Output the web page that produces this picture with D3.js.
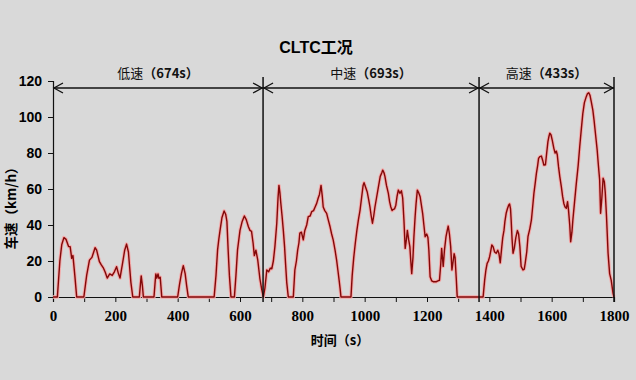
<!DOCTYPE html>
<html>
<head>
<meta charset="utf-8">
<script src="https://cdn.jsdelivr.net/npm/d3@7"></script>
<style>
  html, body { margin: 0; padding: 0; background: #d9d9d9; }
  svg { display: block; }
</style>
</head>
<body>
<div id="chart"></div>
<script>
// CLTC speed trace (time in s, speed in km/h)
var lowTime = [0, 14, 18, 22, 28, 35, 42, 50, 55, 60, 64, 70, 76,
    99, 108, 117, 125, 135, 140, 149, 155, 162, 167, 174, 182, 190, 197, 204, 210, 215, 223, 230, 236, 242, 245, 250, 256,
    277, 281, 283, 287, 290,
    324, 328, 330, 333, 337, 340, 344, 349,
    400, 406, 412, 418, 424, 429, 434,
    517, 523, 528, 532, 536, 542, 549, 554, 558, 562, 566, 571,
    582, 587, 592, 600, 607, 614, 620, 627, 632, 637, 642, 646, 651, 657, 664, 670, 675];
var lowSpeed = [0, 0, 10, 20, 29, 33, 32, 28, 28, 21.5, 23, 12, 0,
    0, 12, 20.5, 22, 27.4, 26, 19.6, 17.8, 16, 14, 10.5, 12.8, 12, 14, 16.8, 13, 10.5, 18.5, 26, 29.4, 25, 18.5, 8, 0,
    0, 8, 11.7, 6, 0,
    0, 9, 12.8, 10.5, 12.8, 10.4, 11, 0,
    0, 7, 13, 17.4, 13, 6, 0,
    0, 12, 26, 32, 37, 44, 47.8, 46, 42, 26, 12, 0,
    0, 12, 26, 37, 42, 45, 43, 39, 37, 36.5, 30, 23, 26, 20.5, 10, 4, 0];

var midTime = [680, 686, 692, 697, 702, 707, 712, 718, 722, 725, 728, 731, 735, 739, 743, 746, 750, 755,
    771, 776, 781, 785, 789, 792, 797, 803, 808, 814, 819, 825, 830, 836, 841, 846, 851, 855, 860, 864, 867, 872, 878, 883, 889, 894, 899, 905, 910, 914, 918, 921, 924,
    956, 960, 965, 970, 975, 980, 985, 990, 995, 998, 1003, 1008, 1013, 1017, 1021, 1025, 1029, 1033, 1038, 1044, 1050, 1055, 1058, 1062, 1065, 1070, 1076, 1080, 1084, 1088, 1092, 1096, 1100, 1104, 1108, 1113, 1118, 1122, 1126, 1130, 1134, 1137, 1141, 1145, 1148, 1151, 1155, 1158, 1162, 1165, 1169, 1173, 1178, 1182, 1186, 1190, 1194, 1199, 1203, 1206, 1210, 1215, 1220, 1225, 1230, 1235, 1240, 1244, 1247, 1252, 1256, 1261, 1265, 1268, 1272, 1276, 1280, 1284, 1287, 1290, 1294, 1297];
var midSpeed = [5, 15, 14, 16, 15.7, 20, 28, 41, 55, 62, 58, 52, 45, 37, 28, 19, 8, 0,
    0, 15, 20, 26, 30, 35.5, 36, 31.7, 37, 40, 44.6, 45, 47.4, 48, 50, 52, 55, 57, 62, 56, 50, 48, 46.5, 43, 39, 35, 31.7, 26, 20.5, 15, 9.4, 5, 0,
    0, 12, 22, 30, 37, 43, 48, 55, 62, 63.5, 61, 58.5, 54, 50, 45, 41, 45, 50, 55, 61, 67, 69, 70.5, 69, 67, 62, 57.6, 53, 50, 48, 48.7, 49, 51, 56, 59.4, 57.6, 59, 55, 42.8, 27, 32, 37, 32, 28, 20, 13, 22, 33.5, 45, 52, 59.4, 58, 55.7, 51, 46.5, 40, 33.5, 35, 33, 26, 11.3, 9, 8.5, 8.5, 8.5, 9, 9.3, 18, 27, 17, 26, 33.5, 37, 39.4, 35, 28, 15, 20, 24, 22, 10, 0];

var highTime = [1380, 1385, 1389, 1393, 1397, 1401, 1405, 1408, 1412, 1417, 1422, 1427, 1431, 1435, 1440, 1443, 1447, 1450, 1454, 1458, 1462, 1465, 1468, 1470, 1473, 1476, 1480, 1485, 1490, 1494, 1498, 1502, 1508, 1512, 1515, 1520, 1524, 1530, 1535, 1539, 1543, 1547, 1551, 1555, 1558, 1562, 1567, 1571, 1575, 1580, 1584, 1588, 1591, 1594, 1598, 1602, 1607, 1611, 1615, 1618, 1622, 1626, 1631, 1635, 1639, 1643, 1647, 1651, 1654, 1658, 1661, 1665, 1668, 1673, 1679, 1685, 1690, 1695, 1700, 1705, 1711, 1715, 1719, 1723, 1727, 1732, 1736, 1741, 1746, 1750, 1754, 1757, 1761, 1765, 1769, 1772, 1776, 1781, 1786, 1791, 1797, 1800];
var highSpeed = [0, 9.4, 15, 18.7, 20, 22.4, 26, 28.9, 28, 25, 24.3, 26, 24, 19, 28, 33, 37, 42, 46.5, 49, 51, 51.7, 49, 42.8, 32, 24.3, 27, 33, 36.9, 35, 28, 17, 15, 15.5, 18.7, 25, 33.5, 38, 42.8, 50, 57.6, 63, 68.7, 73, 77, 78, 78.3, 76, 73.3, 73.5, 80, 86.3, 89, 91, 90, 87, 82.6, 80, 81, 79, 72.4, 67, 61.3, 56, 52, 50, 49.3, 53, 48.4, 40, 30.7, 36, 42.8, 52, 63, 73, 83.5, 93, 102, 108, 111.3, 113, 113.5, 112, 108.5, 104, 98.3, 90, 81.7, 73, 65, 46.5, 55, 66, 64, 58, 44.6, 24.3, 13, 9.4, 2, 0];

var phaseNames = ["低速", "中速", "高速"];
var phaseDurations = ["（674s）", "（693s）", "（433s）"];
var phaseBounds = [0, 674, 1367, 1800];
var xTicks = [0, 200, 400, 600, 800, 1000, 1200, 1400, 1600, 1800];
var yTicks = [0, 20, 40, 60, 80, 100, 120];

(function () {
    var width = 636, height = 380;
    var margin = { top: 81, right: 22, bottom: 83, left: 53 };
    var innerW = width - margin.left - margin.right;
    var innerH = height - margin.top - margin.bottom;

    var svg = d3.select("#chart").append("svg").attr("width", width).attr("height", height);
    svg.append("rect").attr("width", width).attr("height", height).attr("fill", "#d9d9d9");

    var g = svg.append("g").attr("transform", "translate(" + margin.left + "," + margin.top + ")");

    var x = d3.scaleLinear().domain([0, 1800]).range([0, innerW]);
    var y = d3.scaleLinear().domain([0, 120]).range([innerH, 0]);

    // build point list from the three phases, zeros in between are joined by the line
    var points = [];
    [[lowTime, lowSpeed], [midTime, midSpeed], [highTime, highSpeed]].forEach(function (p) {
        p[0].forEach(function (t, i) {
            points.push({ t: t, v: p[1][i] });
        });
    });

    var line = d3.line().x(function (d) { return x(d.t); }).y(function (d) { return y(d.v); });

    // x axis: ticks every 100, labels every 200
    var xAxis = d3.axisBottom(x).tickValues(d3.range(0, 1801, 100)).tickSize(5)
        .tickFormat(function (d) { return xTicks.indexOf(d) >= 0 ? d : ""; });
    var gx = g.append("g").attr("transform", "translate(0," + innerH + ")").call(xAxis);
    gx.select(".domain").attr("stroke", "#111").attr("stroke-width", 1.2);
    gx.selectAll(".tick line").attr("stroke", "#111");
    gx.selectAll(".tick text").attr("dy", "1.05em")
        .style("font-family", "'Liberation Serif', serif").style("font-weight", "bold")
        .style("font-size", "15px").attr("fill", "#000");

    var yAxis = d3.axisLeft(y).tickValues(yTicks).tickSize(5).tickPadding(6);
    var gy = g.append("g").call(yAxis);
    gy.select(".domain").attr("stroke", "#111").attr("stroke-width", 1.2);
    gy.selectAll(".tick line").attr("stroke", "#111");
    gy.selectAll(".tick text")
        .style("font-family", "'Liberation Sans', Arial, sans-serif").style("font-weight", "bold")
        .style("font-size", "14px").attr("fill", "#000");

    // speed trace: soft red halo underneath, dark red line on top
    g.append("path").datum(points).attr("d", line).attr("fill", "none")
        .attr("stroke", "#f4a8a8").attr("stroke-width", 3.4).attr("stroke-linejoin", "round");
    g.append("path").datum(points).attr("d", line).attr("fill", "none")
        .attr("stroke", "#820808").attr("stroke-width", 1.4).attr("stroke-linejoin", "round");

    // phase dividers
    var arrowY = 7;
    g.selectAll(".divider").data(phaseBounds.slice(1)).enter().append("line")
        .attr("class", "divider")
        .attr("x1", function (d) { return x(d); }).attr("x2", function (d) { return x(d); })
        .attr("y1", -4).attr("y2", innerH + 5)
        .attr("stroke", "#111").attr("stroke-width", 1.5);

    // double arrows with labels
    var phases = phaseNames.map(function (n, i) {
        return { name: n, dur: phaseDurations[i], a: phaseBounds[i], b: phaseBounds[i + 1] };
    });
    var pg = g.selectAll(".phase").data(phases).enter().append("g").attr("class", "phase");
    pg.append("line")
        .attr("x1", function (d) { return x(d.a); }).attr("x2", function (d) { return x(d.b); })
        .attr("y1", arrowY).attr("y2", arrowY).attr("stroke", "#111").attr("stroke-width", 1.3);
    pg.append("path").attr("fill", "none").attr("stroke", "#111").attr("stroke-width", 1.3)
        .attr("d", function (d) {
            var xa = x(d.a) + 1, xb = x(d.b) - 1;
            return "M" + (xa + 9) + "," + (arrowY - 5) + "L" + xa + "," + arrowY + "L" + (xa + 9) + "," + (arrowY + 5) +
                "M" + (xb - 9) + "," + (arrowY - 5) + "L" + xb + "," + arrowY + "L" + (xb - 9) + "," + (arrowY + 5);
        });
    var lbl = pg.append("text")
        .attr("x", function (d) { return (x(d.a) + x(d.b)) / 2; })
        .attr("y", -3).attr("text-anchor", "middle")
        .style("font-family", "'Noto Sans CJK SC', sans-serif").style("font-size", "13px").attr("fill", "#111");
    lbl.append("tspan").text(function (d) { return d.name; });
    lbl.append("tspan").style("font-weight", "bold").text(function (d) { return d.dur; });

    // titles
    svg.append("text").attr("x", 316).attr("y", 53).attr("text-anchor", "middle")
        .style("font-family", "'Liberation Sans', 'Noto Sans CJK SC', sans-serif").style("font-weight", "bold")
        .style("font-size", "16px").attr("fill", "#000").text("CLTC工况");
    svg.append("text").attr("x", 340).attr("y", 345).attr("text-anchor", "middle")
        .style("font-family", "'Noto Sans CJK SC', sans-serif").style("font-weight", "bold")
        .style("font-size", "13px").attr("fill", "#000").text("时间（s）");
    svg.append("text").attr("transform", "translate(16," + 205 + ") rotate(-90)").attr("text-anchor", "middle")
        .style("font-family", "'Noto Sans CJK SC', sans-serif").style("font-weight", "bold")
        .style("font-size", "13.5px").attr("fill", "#000").text("车速（km/h）");
})();
</script>
</body>
</html>
